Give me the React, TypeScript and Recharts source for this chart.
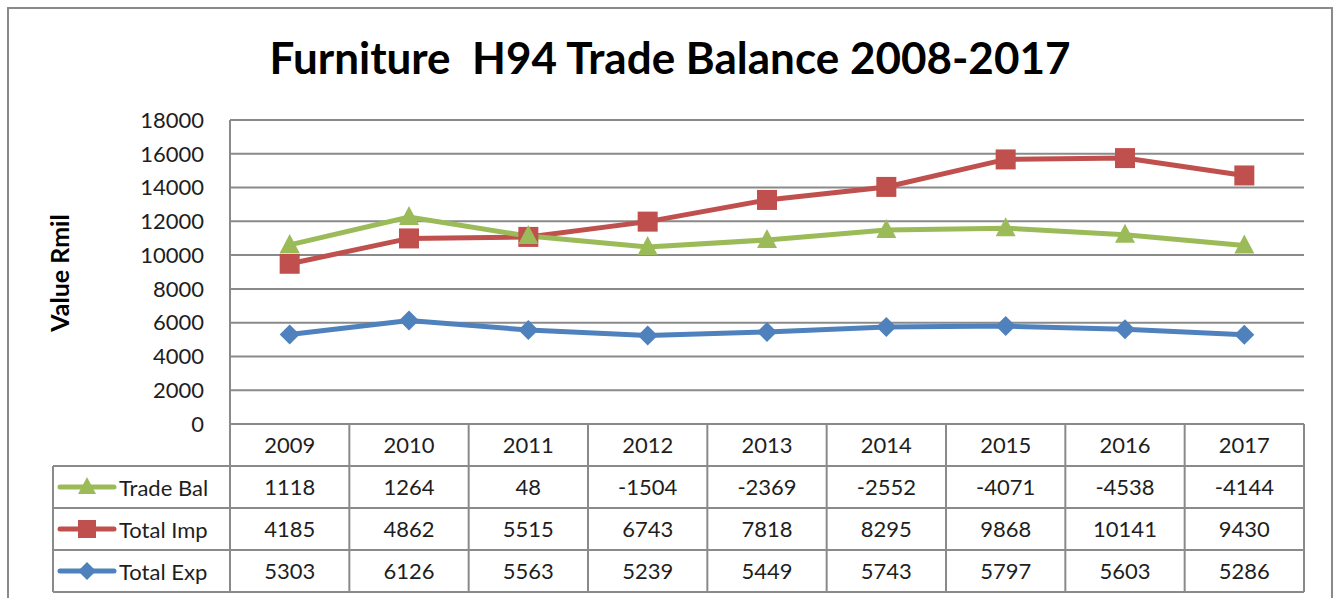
import { LineChart, Line, XAxis, YAxis, CartesianGrid } from "recharts";

const years = ["2009", "2010", "2011", "2012", "2013", "2014", "2015", "2016", "2017"];
const tradeBal = [1118, 1264, 48, -1504, -2369, -2552, -4071, -4538, -4144];
const totalImp = [4185, 4862, 5515, 6743, 7818, 8295, 9868, 10141, 9430];
const totalExp = [5303, 6126, 5563, 5239, 5449, 5743, 5797, 5603, 5286];
const seriesNames = ["Trade Bal", "Total Imp", "Total Exp"];
const yTicks = [0, 2000, 4000, 6000, 8000, 10000, 12000, 14000, 16000, 18000];

// Excel-style stacked line: each series sits on top of the ones below it
const data = years.map((year, i) => ({
  year,
  exp: totalExp[i],
  imp: totalExp[i] + totalImp[i],
  bal: totalExp[i] + totalImp[i] + tradeBal[i],
}));

const GREEN = "#9BBB59";
const RED = "#C0504D";
const BLUE = "#4F81BD";
const GRID = "#8a8a8a";
const FONT = "Lato, 'Open Sans', sans-serif";

const W = 1334;
const H = 598;
const PLOT_L = 230;
const PLOT_R = 1304;
const PLOT_B = 424;
const ROW_H = 42;
const TABLE_L = 53;

const tickStyle = { fontSize: 22, fill: "#1e1e1e", fontFamily: FONT };

const Triangle = (props: any) => {
  const { cx, cy, key } = props;
  if (cx == null || cy == null) return <g key={key} />;
  return <polygon key={key} points={`${cx},${cy - 11} ${cx - 10},${cy + 8} ${cx + 10},${cy + 8}`} fill={GREEN} />;
};
const Square = (props: any) => {
  const { cx, cy, key } = props;
  if (cx == null || cy == null) return <g key={key} />;
  return <rect key={key} x={cx - 10} y={cy - 10} width={20} height={20} fill={RED} />;
};
const Diamond = (props: any) => {
  const { cx, cy, key } = props;
  if (cx == null || cy == null) return <g key={key} />;
  return <polygon key={key} points={`${cx},${cy - 10} ${cx + 10},${cy} ${cx},${cy + 10} ${cx - 10},${cy}`} fill={BLUE} />;
};

const legendMarkers = [
  (cx: number, cy: number) => <polygon points={`${cx},${cy - 10} ${cx - 9},${cy + 7} ${cx + 9},${cy + 7}`} fill={GREEN} />,
  (cx: number, cy: number) => <rect x={cx - 9} y={cy - 9} width={18} height={18} fill={RED} />,
  (cx: number, cy: number) => <polygon points={`${cx},${cy - 9} ${cx + 9},${cy} ${cx},${cy + 9} ${cx - 9},${cy}`} fill={BLUE} />,
];
const legendColors = [GREEN, RED, BLUE];
const rowValues = [tradeBal, totalImp, totalExp];

function TableOverlay() {
  const colW = (PLOT_R - PLOT_L) / years.length;
  const rowsTop = PLOT_B + ROW_H;
  const tableBottom = PLOT_B + ROW_H * 4;
  return (
    <svg width={W} height={H} style={{ position: "absolute", left: 0, top: 0, pointerEvents: "none" }}>
      <rect x={8} y={8} width={1324} height={620} fill="none" stroke={GRID} strokeWidth={2} />
      <text x={670} y={74} textAnchor="middle" fontFamily={FONT} fontWeight={700} fontSize={44} fill="#000">
        Furniture{"\u00a0\u00a0"}H94 Trade Balance 2008-2017
      </text>
      <text
        x={69}
        y={273}
        transform="rotate(-90 69 273)"
        textAnchor="middle"
        fontFamily={FONT}
        fontWeight={700}
        fontSize={25}
        fill="#000"
      >
        Value Rmil
      </text>
      {/* table grid */}
      <line x1={PLOT_L} y1={PLOT_B} x2={PLOT_L} y2={tableBottom} stroke={GRID} strokeWidth={2} />
      {years.map((_, k) => (
        <line
          key={k}
          x1={PLOT_L + (k + 1) * colW}
          y1={PLOT_B}
          x2={PLOT_L + (k + 1) * colW}
          y2={tableBottom}
          stroke={GRID}
          strokeWidth={2}
        />
      ))}
      <line x1={TABLE_L} y1={rowsTop} x2={TABLE_L} y2={tableBottom} stroke={GRID} strokeWidth={2} />
      {[0, 1, 2, 3].map((r) => (
        <line
          key={r}
          x1={TABLE_L}
          y1={rowsTop + r * ROW_H}
          x2={PLOT_R}
          y2={rowsTop + r * ROW_H}
          stroke={GRID}
          strokeWidth={2}
        />
      ))}
      {/* legend keys in the table */}
      {seriesNames.map((name, r) => {
        const cy = rowsTop + r * ROW_H + ROW_H / 2;
        return (
          <g key={name}>
            <line x1={60} y1={cy} x2={114} y2={cy} stroke={legendColors[r]} strokeWidth={5} strokeLinecap="round" />
            {legendMarkers[r](87, cy)}
            <text x={119} y={cy} dominantBaseline="central" fontFamily={FONT} fontSize={22} fill="#1e1e1e">
              {name}
            </text>
          </g>
        );
      })}
    </svg>
  );
}

export default function App() {
  return (
    <div style={{ position: "fixed", left: 0, top: 0, width: W, height: H, background: "#fff" }}>
      <LineChart width={W} height={H} data={data} margin={{ top: 120, right: 30, bottom: 6, left: 30 }}>
        <CartesianGrid vertical={false} stroke={GRID} strokeWidth={2} />
        <XAxis
          xAxisId="r0"
          dataKey="year"
          scale="band"
          height={ROW_H}
          interval={0}
          tickSize={0}
          tickMargin={13}
          tickLine={false}
          axisLine={{ stroke: GRID, strokeWidth: 2 }}
          tick={tickStyle}
        />
        {rowValues.map((vals, r) => (
          <XAxis
            key={r}
            xAxisId={`r${r + 1}`}
            dataKey="year"
            scale="band"
            height={ROW_H}
            interval={0}
            tickSize={0}
            tickMargin={13}
            tickLine={false}
            axisLine={false}
            tick={tickStyle}
            tickFormatter={(_v: any, i: number) => String(vals[i])}
          />
        ))}
        <YAxis
          width={200}
          domain={[0, 18000]}
          ticks={yTicks}
          interval={0}
          tickSize={0}
          tickMargin={26}
          tickLine={false}
          axisLine={{ stroke: GRID, strokeWidth: 2 }}
          tick={tickStyle}
        />
        <Line xAxisId="r0" dataKey="exp" stroke={BLUE} strokeWidth={5} dot={Diamond} isAnimationActive={false} />
        <Line xAxisId="r0" dataKey="imp" stroke={RED} strokeWidth={5} dot={Square} isAnimationActive={false} />
        <Line xAxisId="r0" dataKey="bal" stroke={GREEN} strokeWidth={5} dot={Triangle} isAnimationActive={false} />
      </LineChart>
      <TableOverlay />
    </div>
  );
}
